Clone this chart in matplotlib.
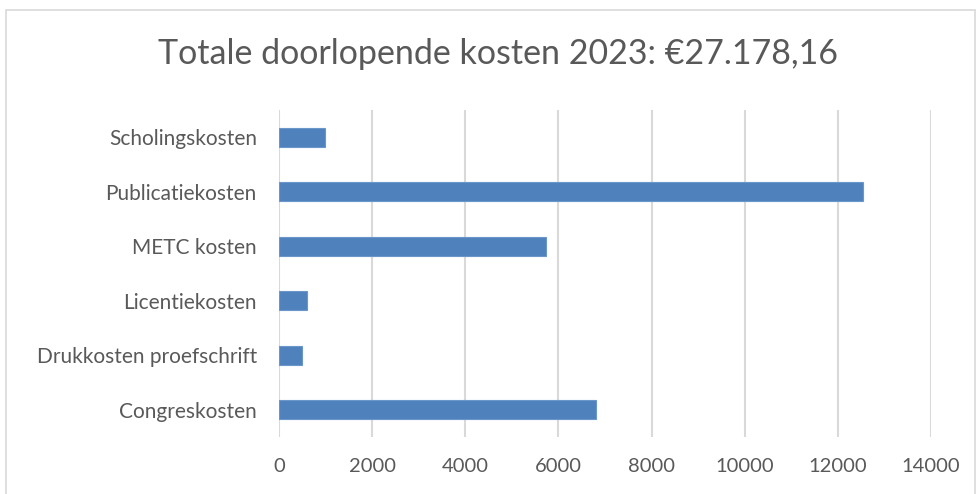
import matplotlib.pyplot as plt
from matplotlib.patches import Rectangle

categories = ["Congreskosten", "Drukkosten proefschrift", "Licentiekosten",
              "METC kosten", "Publicatiekosten", "Scholingskosten"]
values = [6800, 494, 610, 5726, 12535, 996]
xticks = [0, 2000, 4000, 6000, 8000, 10000, 12000, 14000]
title = "Totale doorlopende kosten 2023: €27.178,16"

plt.rcParams['font.family'] = ['Lato', 'DejaVu Sans']
text_color = '#595959'

fig = plt.figure(figsize=(9.79, 4.94), dpi=100)
ax = fig.add_axes([279 / 979, 1 - 437 / 494, (931 - 279) / 979, (437 - 110) / 494])

ax.barh(range(len(categories)), values, height=0.355, color='#4f81bd',
        edgecolor='#6b96c9', linewidth=0.8, zorder=3)

ax.set_xlim(0, 14000)
ax.set_ylim(-0.5, len(categories) - 0.5)
ax.set_xticks(xticks)
ax.set_xticklabels([str(t) for t in xticks], fontsize=14.5, color=text_color)
ax.set_yticks(range(len(categories)))
ax.set_yticklabels(categories, fontsize=15, color=text_color)
ax.tick_params(axis='both', length=0)
ax.tick_params(axis='x', pad=15)
ax.tick_params(axis='y', pad=16)
ax.grid(axis='x', color='#d9d9d9', linewidth=1.5, zorder=0)
for s in ax.spines.values():
    s.set_visible(False)

fig.text(498 / 979, 1 - 54 / 494, title, ha='center', va='center', fontsize=24.5,
         color=text_color)

# outer chart border
fig.patches.append(Rectangle((6 / 979, -0.1), (975 - 6) / 979, 1.1 - 10 / 494,
                             transform=fig.transFigure, fill=False,
                             edgecolor='#d9d9d9', linewidth=1.2))

fig.savefig('out.png', dpi=100)
